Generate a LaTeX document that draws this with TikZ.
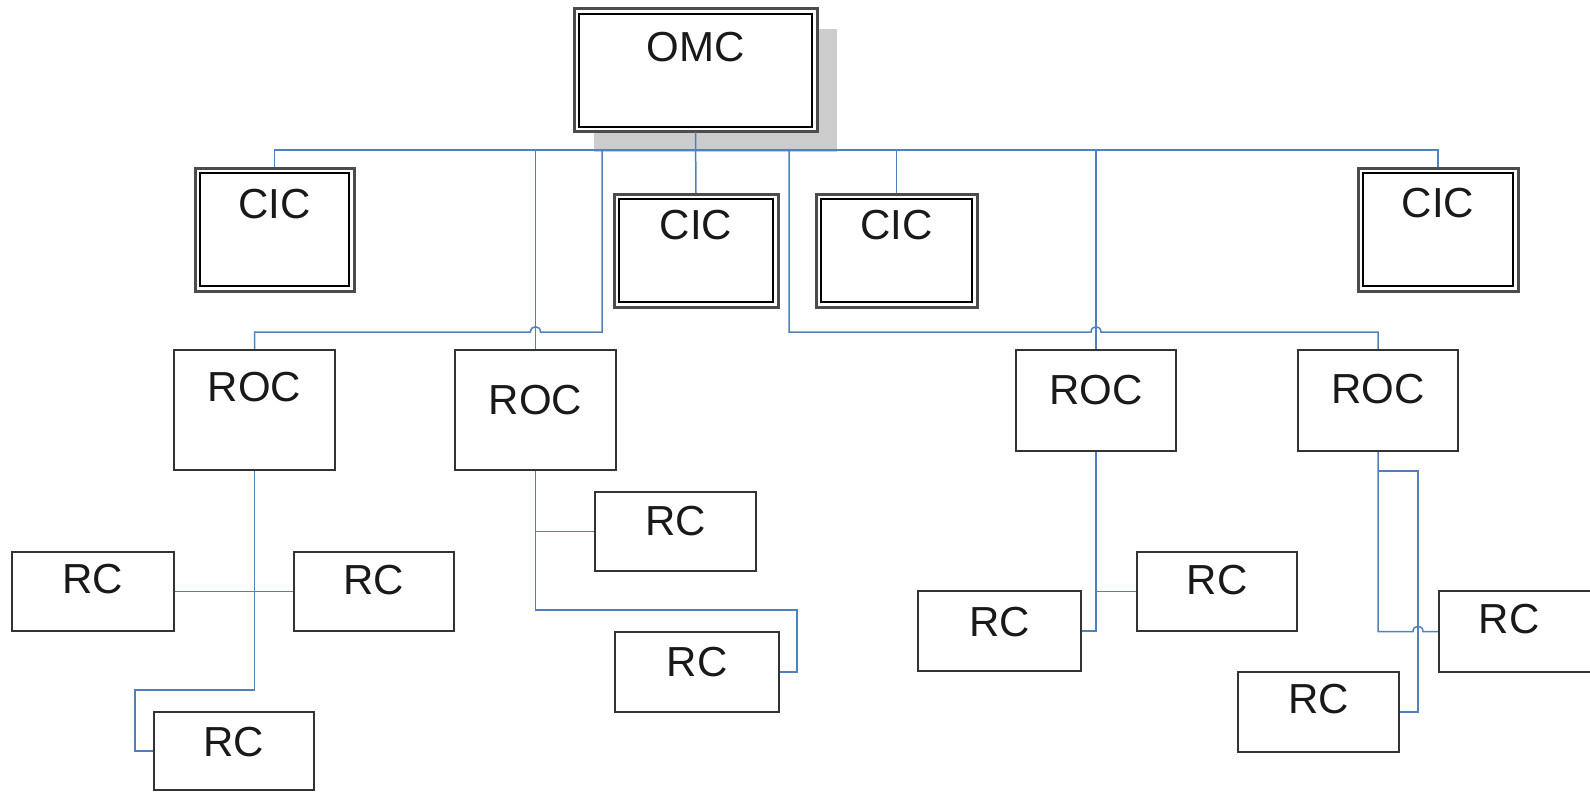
\documentclass[tikz,border=0pt]{standalone}
\usepackage{fontspec}
\setmainfont{Liberation Sans}
\usetikzlibrary{fit,calc}
\definecolor{connblue}{RGB}{79,129,189}
\tikzset{
  cn/.style={draw=connblue, line width=0.75pt},
  pbox/.style={draw=black!80, line width=1pt, fill=white, inner sep=0pt, outer sep=0pt},
  dbox/.style={draw=black!70, line width=1.5pt, fill=white, inner sep=0pt, outer sep=0pt},
  lbl/.style={anchor=base, inner sep=0pt, font=\fontsize{21pt}{25pt}\selectfont, text=black!90},
}
\newcommand\pbx[8]{%
  \coordinate (#2-a) at (#3,#4); \coordinate (#2-b) at (#5,#6);
  \node[#1, fit=(#2-a)(#2-b)] (#2) {};
  \node[lbl] at ($(#2.north)+(0,#8+15)$) {#7};}
\newcommand\dbx[8]{%
  \pbx{#1}{#2}{#3}{#4}{#5}{#6}{#7}{#8}
  \draw[line width=0.75pt, black] ($(#2.north west)+(5,5)$) rectangle ($(#2.south east)+(-5,-5)$);}
\begin{document}
\begin{tikzpicture}[x=0.5pt,y=-0.5pt]
\useasboundingbox (0,0) rectangle (1590,792);
% shadow of OMC
\fill[gray!40] (594,29) rectangle (837,152);
% coordinates
\coordinate (bus) at (696,150);
\coordinate (hl) at (0,332);
\coordinate (ja) at (602,150);
\coordinate (jb) at (789,150);
% boxes (drawn first as named nodes, connectors drawn below them via layers)
\begin{scope}
\dbx{dbox}{omc}{574}{9}{817}{132}{OMC}{38}
\end{scope}
\path (195,168) coordinate (c1a) (354,291) coordinate (c1b);
\node[dbox, fit=(c1a)(c1b)] (cic1) {};
\path (614,194) coordinate (c2a) (778,307) coordinate (c2b);
\node[dbox, fit=(c2a)(c2b)] (cic2) {};
\path (816,194) coordinate (c3a) (977,307) coordinate (c3b);
\node[dbox, fit=(c3a)(c3b)] (cic3) {};
\path (1358,168) coordinate (c4a) (1518,291) coordinate (c4b);
\node[dbox, fit=(c4a)(c4b)] (cic4) {};
\path (174,350) coordinate (r1a) (335,470) coordinate (r1b);
\node[pbox, fit=(r1a)(r1b)] (roc1) {};
\path (455,350) coordinate (r2a) (616,470) coordinate (r2b);
\node[pbox, fit=(r2a)(r2b)] (roc2) {};
\path (1016,350) coordinate (r3a) (1176,451) coordinate (r3b);
\node[pbox, fit=(r3a)(r3b)] (roc3) {};
\path (1298,350) coordinate (r4a) (1458,451) coordinate (r4b);
\node[pbox, fit=(r4a)(r4b)] (roc4) {};
\path (12,552) coordinate (aa) (174,631) coordinate (ab);
\node[pbox, fit=(aa)(ab)] (rca) {};
\path (294,552) coordinate (ba) (454,631) coordinate (bb);
\node[pbox, fit=(ba)(bb)] (rcb) {};
\path (154,712) coordinate (ca) (314,790) coordinate (cb);
\node[pbox, fit=(ca)(cb)] (rcc) {};
\path (595,492) coordinate (da) (756,571) coordinate (db);
\node[pbox, fit=(da)(db)] (rcd) {};
\path (615,632) coordinate (ea) (779,712) coordinate (eb);
\node[pbox, fit=(ea)(eb)] (rce) {};
\path (918,591) coordinate (fa) (1081,671) coordinate (fb);
\node[pbox, fit=(fa)(fb)] (rcf) {};
\path (1137,552) coordinate (ga) (1297,631) coordinate (gb);
\node[pbox, fit=(ga)(gb)] (rcg) {};
\path (1439,591) coordinate (ha) (1610,672) coordinate (hb);
\node[pbox, fit=(ha)(hb)] (rch) {};
\path (1238,672) coordinate (ia) (1399,752) coordinate (ib);
\node[pbox, fit=(ia)(ib)] (rci) {};
% inner lines of double boxes
\foreach \n in {cic1,cic2,cic3,cic4}
  \draw[line width=0.75pt, black] ($(\n.north west)+(5,5)$) rectangle ($(\n.south east)+(-5,-5)$);
% connectors
\draw[cn] (cic1.north) -- (cic1.north |- bus) -- (cic4.north |- bus) -- (cic4.north);
\draw[cn] (omc.south) -- (cic2.north);
\draw[cn] (cic3.north) -- (cic3.north |- bus);
\draw[cn] (roc2.north) -- (roc2.north |- bus);
\draw[cn] (roc3.north) -- (roc3.north |- bus);
\draw[cn] (roc1.north) -- (roc1.north |- hl) -- ($(roc2.north |- hl)+(-5,0)$)
  .. controls +(0,-7) and +(0,-7) .. ($(roc2.north |- hl)+(5,0)$) -- (ja |- hl) -- (ja);
\draw[cn] (roc4.north) -- (roc4.north |- hl) -- ($(roc3.north |- hl)+(5,0)$)
  .. controls +(0,-7) and +(0,-7) .. ($(roc3.north |- hl)+(-5,0)$) -- (jb |- hl) -- (jb);
% ROC1 children
\draw[cn] (roc1.south) -- ++(0,220) -| ($(rcc.west)+(-19,0)$) -- (rcc.west);
\draw[cn] (rca.east) -- (rcb.west);
% ROC2 children
\draw[cn] (roc2.south) -- ++(0,140) -| ($(rce.east)+(18,0)$) -- (rce.east);
\draw[cn] (rcd.west) -- (rcd.west -| roc2.south);
% ROC3 children
\draw[cn] (roc3.south) |- (rcf.east);
\draw[cn] (rcg.west) -- (rcg.west -| roc3.south);
% ROC4 children
\draw[cn] (roc4.south) -- (roc4.south |- rch.west) -- ($(rch.west)+(-26,0)$)
  .. controls +(0,-7) and +(0,-7) .. ($(rch.west)+(-16,0)$) -- (rch.west);
\draw[cn] ($(roc4.south)+(0,20)$) -- ++(40,0) |- (rci.east);
% redraw boxes over connector ends (box outlines on top)
\foreach \n in {cic1,cic2,cic3,cic4,roc1,roc2,roc3,roc4,rca,rcb,rcc,rcd,rce,rcf,rcg,rch,rci}
  \draw[draw=black!80, line width=1pt] (\n.north west) rectangle (\n.south east);
\foreach \n in {cic1,cic2,cic3,cic4}
  \draw[draw=black!70, line width=1.5pt] (\n.north west) rectangle (\n.south east);
% labels
\node[lbl] at ($(cic1.north)+(0,50)$) {CIC};
\node[lbl] at ($(cic2.north)+(0,45)$) {CIC};
\node[lbl] at ($(cic3.north)+(0,45)$) {CIC};
\node[lbl] at ($(cic4.north)+(0,49)$) {CIC};
\node[lbl] at ($(roc1.north)+(0,51)$) {ROC};
\node[lbl] at ($(roc2.north)+(0,64)$) {ROC};
\node[lbl] at ($(roc3.north)+(0,54)$) {ROC};
\node[lbl] at ($(roc4.north)+(0,53)$) {ROC};
\node[lbl] at ($(rca.north)+(0,41)$) {RC};
\node[lbl] at ($(rcb.north)+(0,42)$) {RC};
\node[lbl] at ($(rcc.north)+(0,44)$) {RC};
\node[lbl] at ($(rcd.north)+(0,43)$) {RC};
\node[lbl] at ($(rce.north)+(0,44)$) {RC};
\node[lbl] at ($(rcf.north)+(0,45)$) {RC};
\node[lbl] at ($(rcg.north)+(0,42)$) {RC};
\node[lbl] at ($(rch.north west)+(70,42)$) {RC};
\node[lbl] at ($(rci.north)+(0,41)$) {RC};
\end{tikzpicture}
\end{document}
